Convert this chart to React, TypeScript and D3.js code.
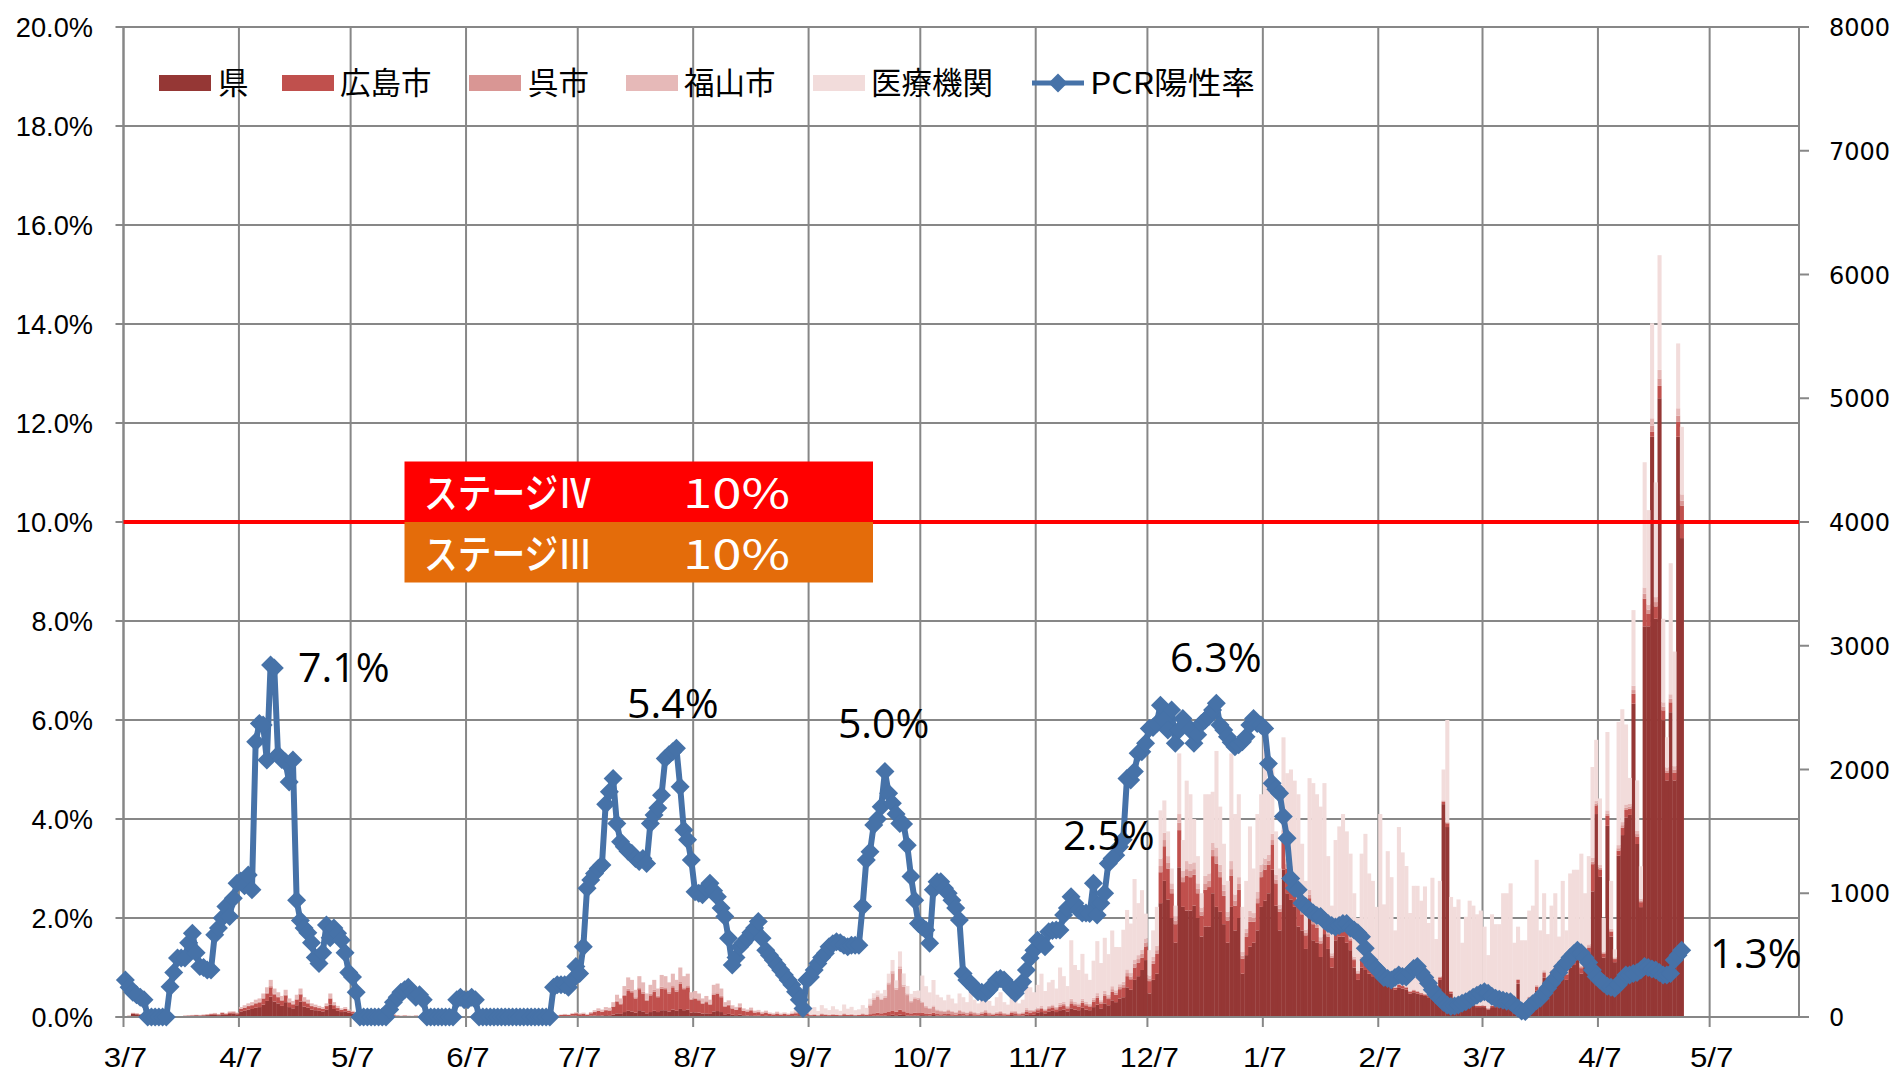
import React from "react";
import * as d3 from "d3";

// ---------------- DATA (daily, 2020-03-07 .. 2021-04-29) ----------------
const START = Date.UTC(2020, 2, 7);
const AXIS_END = Date.UTC(2021, 4, 31);
const DAY = 86400000;

const seriesNames = ["県", "広島市", "呉市", "福山市", "医療機関"];
const lineName = "PCR陽性率";
const xTickLabels = ["3/7","4/7","5/7","6/7","7/7","8/7","9/7","10/7","11/7","12/7","1/7","2/7","3/7","4/7","5/7"];
const leftTicks = [0, 2, 4, 6, 8, 10, 12, 14, 16, 18, 20];
const rightTicks = [0, 1000, 2000, 3000, 4000, 5000, 6000, 7000, 8000];
const stageThreshold = 10;
const stageLabels = ["ステージⅣ", "ステージⅢ"];
const stageValueLabel = "10%";

const ken = [
8,10,25,22,18,6,4,4,3,5,6,4,5,3,4,5,7,9,10,13,10,12,15,18,20,15,22,18,25,28,22,
45,50,60,65,75,80,100,130,165,125,110,90,120,80,70,95,125,85,75,60,55,50,45,60,100,65,50,40,45,35,28,
15,18,12,10,14,16,12,9,8,10,12,8,6,8,
6,5,7,4,3,5,6,4,3,2,4,5,3,2,3,4,2,3,2,
1,2,1,0,1,2,1,1,0,1,2,1,1,2,1,2,3,2,3,4,3,
5,6,8,6,10,12,
8,8,6,10,12,14,12,15,14,20,
30,25,40,50,45,35,55,45,30,40,
50,40,55,55,45,60,50,65,55,60,
35,38,35,28,30,25,45,48,40,22,
25,18,15,20,14,12,14,10,11,8,
10,7,6,8,6,7,6,8,10,15,
12,10,
5,6,5,8,6,5,7,6,5,8,6,7,5,6,8,6,8,10,12,10,12,15,18,14,20,16,12,10,12,10,
15,14,12,16,12,10,12,14,10,9,14,12,10,15,10,9,12,15,10,8,12,14,10,8,16,14,10,12,20,16,18,
35,40,30,45,50,40,55,60,45,70,60,55,75,60,55,80,100,70,110,95,135,120,150,160,240,220,300,330,380,460,
190,300,350,920,1100,950,800,600,1210,890,860,860,900,800,650,730,730,1000,890,850,750,600,890,700,800,350,500,570,600,700,890,
940,1000,1190,900,700,1190,1000,950,890,730,700,550,810,620,600,485,670,550,400,620,650,650,600,540,400,300,400,380,350,330,320,
350,260,260,250,220,240,230,220,190,200,190,180,170,160,160,130,300,1720,1535,190,135,120,90,110,100,90,80,80,
80,60,80,80,80,90,80,100,70,270,100,90,140,150,215,150,320,270,320,350,280,350,300,400,420,460,350,450,500,1015,1640,
1133,480,1545,650,443,1304,1470,1613,1633,2532,1398,888,3157,3157,4689,3218,5000,2398,1912,2463,1912,4689,3870
];

const hiroshima = [
0,0,5,5,4,2,0,0,0,0,2,0,0,0,2,2,3,3,4,3,4,5,5,6,8,6,10,8,12,10,8,
20,25,28,30,35,38,48,60,75,58,50,42,55,38,32,45,58,40,35,28,25,22,20,28,48,30,22,18,20,15,12,
8,10,6,5,7,8,6,5,4,5,6,4,3,4,
3,3,4,2,2,3,3,2,2,1,2,3,2,1,2,2,1,2,1,
1,1,0,0,1,1,0,1,0,1,1,1,0,1,1,2,2,3,4,5,6,
8,10,12,10,15,18,
14,17,12,20,28,36,30,40,38,62,
95,78,130,165,155,115,170,145,100,135,
155,120,175,170,145,180,155,205,170,180,
105,110,100,80,90,75,135,140,120,62,
70,50,42,58,36,32,40,26,28,20,
26,18,15,20,14,17,14,18,20,25,
20,18,
10,12,8,14,12,10,12,10,9,14,10,12,9,10,14,11,15,20,22,20,25,30,35,28,40,30,25,20,24,22,
18,15,14,18,12,12,12,15,12,10,15,12,10,15,12,10,14,18,12,10,14,16,12,10,18,16,12,14,25,20,22,
20,25,18,25,28,22,30,35,25,40,35,30,40,35,30,45,55,40,60,50,70,60,75,80,90,85,100,110,100,110,
100,130,160,250,280,250,200,150,300,200,280,270,250,200,170,300,320,300,350,280,230,180,250,200,230,120,150,200,170,220,240,
250,230,200,180,150,230,200,190,180,160,130,110,150,130,120,110,120,100,80,100,100,100,90,80,60,50,60,60,50,50,40,
30,20,25,20,15,20,20,18,15,15,15,12,12,12,12,10,20,20,30,15,12,12,10,10,10,10,10,10,
10,8,10,10,10,12,10,12,8,30,12,12,18,20,30,20,40,35,40,45,35,45,40,50,50,55,45,50,60,220,70,
60,30,80,40,25,40,60,60,50,80,60,40,224,100,39,100,100,80,60,80,60,120,263
];

const kure = [
0,0,0,0,0,0,0,0,0,0,0,0,0,0,0,0,0,0,0,0,0,0,0,0,0,0,0,0,0,0,0,
3,3,4,4,5,5,6,8,10,7,6,6,7,5,5,6,7,5,5,4,3,3,3,4,6,4,3,2,3,2,2,
0,0,0,0,0,0,0,0,0,0,0,0,0,0,0,0,0,0,0,0,0,0,0,0,0,0,0,0,0,0,
0,0,0,0,0,0,0,0,0,0,0,0,0,0,0,0,0,0,0,0,0,0,0,0,0,0,0,0,0,0,
1,1,1,2,2,3,3,4,3,5,
8,7,12,15,14,10,15,13,9,12,
14,11,16,15,13,16,14,18,15,16,
9,10,9,7,8,6,12,12,10,6,
6,4,4,5,3,3,3,2,3,2,
2,2,1,2,1,2,1,2,2,5,
4,3,
2,2,2,3,2,2,3,2,2,3,2,3,2,2,3,2,70,110,130,110,120,220,300,180,330,200,140,90,110,110,
80,50,40,50,30,25,20,25,20,15,20,15,12,15,12,10,12,14,10,8,10,12,8,7,10,10,6,8,15,12,10,
10,12,8,10,12,10,14,12,10,18,14,12,16,12,10,14,18,12,18,15,20,16,18,20,25,22,30,28,30,30,
20,25,30,50,50,45,35,30,60,40,55,50,45,35,30,50,50,50,60,45,40,30,55,40,45,25,30,40,30,40,45,
40,35,40,30,25,40,35,35,30,30,25,20,30,25,25,20,25,20,15,20,20,20,18,15,12,10,12,12,10,10,8,
8,5,6,5,4,5,5,4,3,4,4,3,3,3,3,2,4,5,5,3,3,3,2,2,2,2,2,2,
2,2,2,2,2,2,2,3,2,5,3,3,4,4,6,4,8,7,8,9,7,9,8,10,10,11,9,10,12,20,15,
15,8,20,10,6,20,20,20,18,30,20,12,40,35,50,35,60,30,20,30,25,50,40
];

const fukuyama = [
0,0,4,3,2,0,0,0,0,0,0,0,0,0,0,0,2,2,3,2,3,3,4,4,5,4,6,5,8,8,6,
12,17,18,21,25,27,36,42,50,40,34,32,38,27,23,34,40,30,25,18,17,15,12,18,36,21,15,10,12,8,8,
5,6,4,3,4,5,4,3,3,3,4,3,2,3,
2,2,2,1,1,2,2,1,1,1,1,2,1,1,1,1,1,1,1,
0,0,0,0,0,0,0,0,0,0,0,0,0,0,0,0,1,1,2,2,2,
3,4,5,4,6,6,
7,9,6,8,13,17,15,21,20,33,
47,40,68,90,86,60,90,77,51,73,
81,59,94,90,77,94,81,112,90,94,
51,52,46,35,42,34,68,70,60,30,
34,23,19,27,17,13,18,12,13,10,
12,8,8,10,7,9,4,7,13,15,
14,9,
4,5,4,6,5,4,5,4,4,6,4,5,4,4,6,5,10,12,12,10,12,15,18,14,20,16,14,12,14,12,
12,10,8,10,8,7,7,8,7,6,8,7,6,8,6,5,7,9,6,5,7,8,6,5,9,8,5,6,12,9,10,
10,12,8,12,12,10,15,14,10,20,16,14,18,14,12,16,20,14,22,18,24,20,22,25,30,28,35,32,35,35,
25,30,35,60,60,55,45,35,70,50,65,60,55,45,35,60,60,60,70,55,50,40,65,50,55,30,35,50,40,50,55,
50,45,50,40,30,50,45,45,40,40,30,25,40,35,30,30,35,25,20,25,25,25,22,20,15,12,15,15,12,12,10,
10,6,8,6,5,6,6,5,4,5,5,4,4,4,4,3,5,6,6,4,4,4,3,3,3,3,3,3,
3,2,3,3,3,3,3,4,2,6,4,4,5,6,8,6,10,9,10,11,9,11,10,12,12,14,11,12,15,30,20,
20,10,25,12,8,25,25,25,20,35,25,15,50,40,60,40,70,35,25,35,30,60,50
];

const iryo = [
0,0,0,0,0,0,0,0,0,0,0,0,0,0,0,0,0,0,0,0,0,0,0,0,0,0,0,0,0,0,0,
0,0,0,0,0,0,0,0,0,0,0,0,0,0,0,0,0,0,0,0,0,0,0,0,0,0,0,0,0,0,0,
0,0,0,0,0,0,0,0,0,0,0,0,0,0,0,0,0,0,0,0,0,0,0,0,0,0,0,0,0,0,
0,0,0,0,0,0,0,0,0,0,0,0,0,0,0,0,0,0,0,0,0,0,0,0,0,0,0,0,2,3,
0,0,0,0,0,0,0,0,0,0,
0,0,0,0,0,0,0,0,0,0,
0,0,0,0,0,0,0,0,0,0,
0,0,0,0,0,0,0,0,0,0,
2,2,3,2,2,3,3,4,3,4,
4,5,4,5,6,5,5,10,15,60,
40,30,
40,55,30,65,45,35,60,40,30,70,45,55,35,40,65,50,45,40,38,40,50,70,90,60,120,90,60,55,50,60,
210,160,125,205,118,105,84,118,100,70,133,114,82,147,100,76,135,184,92,60,117,150,84,70,177,142,77,100,278,183,140,
185,261,146,188,198,148,286,209,160,472,295,269,361,229,193,300,420,300,430,330,450,350,300,420,480,400,650,420,480,200,
205,215,315,390,260,200,120,85,490,250,650,560,350,220,115,660,640,410,780,470,330,250,870,650,670,365,385,680,360,630,570,
980,590,570,350,295,750,690,780,770,840,515,395,900,1080,1025,1055,1040,605,385,665,745,845,770,665,513,428,833,1013,738,698,512,
1242,619,1041,849,456,1264,1069,973,628,836,846,741,866,581,946,485,771,249,824,758,736,811,495,685,825,795,735,765,
635,428,735,655,655,893,905,961,518,419,501,511,693,720,1011,520,622,349,522,585,319,685,342,688,698,650,905,478,713,735,495,
538,272,633,388,65,996,912,646,211,611,409,263,1012,764,768,927,926,675,244,1059,926,524,546
];

const positivity = [
0.75,0.6,0.5,0.45,0.4,0.35,0,0,0,0,
0,0,0.61,0.9,1.19,1.19,1.19,1.5,1.69,1.3,
1.02,1.0,0.95,0.95,1.66,1.8,2.0,2.23,2.03,2.4,
2.7,2.75,2.65,2.87,2.57,5.56,5.93,5.9,5.19,7.11,
7.05,5.3,5.2,5.15,4.75,5.19,2.36,1.95,1.8,1.7,
1.5,1.2,1.08,1.3,1.86,1.6,1.8,1.69,1.55,1.3,
0.9,0.81,0.5,0,0,0,0,0,0,0,
0,0.15,0.3,0.4,0.5,0.55,0.6,0.5,0.4,0.45,
0.35,0,0,0,0,0,0,0,0,0.35,
0.4,0.35,0.35,0.4,0.35,0,0,0,0,0,
0,0,0,0,0,0,0,0,0,0,
0,0,0,0,0,0.6,0.65,0.65,0.65,0.6,
0.75,1.02,0.88,1.42,2.6,2.77,2.9,3.0,3.07,4.3,
4.55,4.82,3.91,3.54,3.44,3.35,3.31,3.2,3.14,3.2,
3.1,3.91,4.08,4.22,4.48,5.22,5.3,5.36,5.43,4.65,
3.78,3.58,3.17,2.53,2.5,2.47,2.6,2.7,2.55,2.43,
2.2,2.03,1.59,1.05,1.2,1.42,1.5,1.59,1.7,1.8,
1.93,1.59,1.35,1.25,1.15,1.05,0.95,0.85,0.75,0.65,
0.51,0.35,0.17,0.75,0.81,0.95,1.08,1.2,1.29,1.42,
1.48,1.52,1.5,1.45,1.42,1.45,1.45,1.45,2.23,3.17,
3.34,3.88,4.0,4.25,4.96,4.52,4.32,4.1,3.91,3.9,
3.47,2.84,2.36,1.89,1.82,1.76,1.49,2.57,2.73,2.73,
2.6,2.5,2.36,2.2,1.96,0.88,0.75,0.68,0.6,0.51,
0.5,0.48,0.55,0.65,0.75,0.78,0.75,0.65,0.55,0.48,
0.6,0.71,0.95,1.19,1.35,1.55,1.5,1.42,1.72,1.75,
1.76,1.76,2.06,2.2,2.43,2.3,2.16,2.1,2.1,2.09,
2.7,2.06,2.3,2.5,3.1,3.2,3.27,3.44,3.58,4.82,
4.79,4.96,5.33,5.36,5.53,5.83,5.85,5.93,6.3,6.0,
5.8,6.2,5.53,5.8,6.03,5.9,5.8,5.53,5.7,5.93,
6.0,6.07,6.2,6.34,5.9,5.8,5.66,5.55,5.46,5.5,
5.56,5.66,5.9,6.03,5.93,5.9,5.83,5.12,4.72,4.6,
4.52,4.05,3.61,2.8,2.6,2.57,2.3,2.23,2.16,2.1,
2.05,2.03,1.95,1.89,1.85,1.82,1.85,1.89,1.89,1.8,
1.76,1.7,1.62,1.39,1.15,1.05,0.98,0.9,0.8,0.78,
0.75,0.8,0.85,0.82,0.81,0.9,0.98,1.02,0.9,0.8,
0.68,0.55,0.45,0.38,0.3,0.24,0.21,0.22,0.24,0.28,
0.31,0.35,0.4,0.44,0.48,0.51,0.48,0.42,0.38,0.36,
0.34,0.32,0.31,0.24,0.18,0.12,0.11,0.2,0.27,0.33,
0.38,0.48,0.58,0.68,0.78,0.9,1.02,1.1,1.2,1.28,
1.35,1.3,1.2,1.1,0.95,0.82,0.75,0.68,0.62,0.6,
0.58,0.65,0.75,0.85,0.85,0.88,0.9,0.95,1.02,1.0,
0.97,0.95,0.9,0.85,0.85,0.88,1.15,1.25,1.35
];

// annotations: label, day index of anchor point, value at anchor
const annotationLabels = ["7.1%", "5.4%", "5.0%", "2.5%", "6.3%", "1.3%"];
const annotationDays = [39, 148, 204, 263, 293, 418];
const annotationValues = [7.11, 5.43, 4.96, 2.5, 6.34, 1.35];

// ---------------- LAYOUT ----------------
const W = 1899;
const H = 1072;
const L = 123.5, R = 1799, T = 27, B = 1017;
const COLORS = ["#953735", "#C0504D", "#D99694", "#E6B9B8", "#F2DCDB"];
const LINE_COLOR = "#4672A8";
const GRID = "#878787";
const annotationOffsets: [number, number][] = [[27.4, 17], [-49.4, -30.2], [-47, -33.5], [-41.6, -43], [-46.3, -31.2], [28.3, 17.8]];

const calibriW: Record<string, number> = { "0": 0.507, "1": 0.507, "2": 0.507, "3": 0.507, "4": 0.507, "5": 0.507, "6": 0.507, "7": 0.507, "8": 0.507, "9": 0.507, ".": 0.252, "%": 0.715, "/": 0.386 };
const textW = (s: string, size: number) => s.split("").reduce((a, c) => a + (calibriW[c] ?? 0.5), 0) * size;

export default function App() {
  const x = d3.scaleUtc().domain([new Date(START), new Date(AXIS_END)]).range([L, R]);
  const yL = d3.scaleLinear().domain([0, 20]).range([B, T]);
  const yR = d3.scaleLinear().domain([0, 8000]).range([B, T]);
  const dayDate = (i: number) => new Date(START + i * DAY);
  const dw = x(dayDate(1)) - x(dayDate(0));
  const cx = (i: number) => x(dayDate(i)) + dw / 2;

  const keys = ["ken", "hiroshima", "kure", "fukuyama", "iryo"];
  const n = positivity.length;
  const rows = d3.range(n).map((i) => ({
    i,
    ken: ken[i] ?? 0,
    hiroshima: hiroshima[i] ?? 0,
    kure: kure[i] ?? 0,
    fukuyama: fukuyama[i] ?? 0,
    iryo: iryo[i] ?? 0,
  }));
  const stacked = d3.stack<any>().keys(keys)(rows);

  const xTickDates = xTickLabels.map((_, k) => d3.utcMonth.offset(new Date(START), k));

  const linePath = d3
    .line<number>()
    .x((_, i) => cx(i))
    .y((v) => yL(v))(positivity) as string;

  const diamond = (px: number, py: number, r: number) =>
    `M${px},${py - r}L${px + r},${py}L${px},${py + r}L${px - r},${py}Z`;

  const legendItems = [
    { sx: 159, tx: 218 },
    { sx: 282, tx: 340 },
    { sx: 469, tx: 528 },
    { sx: 626, tx: 684 },
    { sx: 813, tx: 871 },
  ];

  const stageY = yL(stageThreshold);
  const jp = "'Noto Sans CJK JP', sans-serif";

  return (
    <svg width={W} height={H} viewBox={`0 0 ${W} ${H}`} style={{ display: "block", position: "absolute", left: 0, top: 0, background: "#fff" }}>
      <rect x={0} y={0} width={W} height={H} fill="#fff" />
      {leftTicks.map((v) => (
        <line key={"hg" + v} x1={L - 8} x2={R} y1={yL(v)} y2={yL(v)} stroke={GRID} strokeWidth={2} />
      ))}
      {xTickDates.map((d, k) => (
        <line key={"vg" + k} x1={x(d)} x2={x(d)} y1={T} y2={B + 10} stroke={GRID} strokeWidth={2} />
      ))}
      {stacked.map((layer, li) => (
        <g key={"layer" + li} fill={COLORS[li]}>
          {layer.map((seg: any, i: number) => {
            const y0 = yR(seg[0]);
            const y1 = yR(seg[1]);
            if (y0 - y1 <= 0) return null;
            return <rect key={i} x={x(dayDate(i))} y={y1} width={dw + 0.35} height={y0 - y1} />;
          })}
        </g>
      ))}
      <line x1={L} x2={L} y1={T} y2={B} stroke={GRID} strokeWidth={2} />
      <line x1={R} x2={R} y1={T} y2={B} stroke={GRID} strokeWidth={2} />
      <line x1={L - 8} x2={R + 10} y1={B} y2={B} stroke={GRID} strokeWidth={2} />
      {rightTicks.map((v) => (
        <line key={"rt" + v} x1={R} x2={R + 10} y1={yR(v)} y2={yR(v)} stroke={GRID} strokeWidth={2} />
      ))}
      <line x1={L} x2={R} y1={stageY} y2={stageY} stroke="#FF0000" strokeWidth={4} />
      <path d={linePath} fill="none" stroke={LINE_COLOR} strokeWidth={6} strokeLinejoin="round" />
      <g fill={LINE_COLOR}>
        {positivity.map((v, i) => (
          <path key={"m" + i} d={diamond(cx(i), yL(v), 9.5)} />
        ))}
      </g>
      {leftTicks.map((v) => {
        const s = d3.format(".1f")(v) + "%";
        return (
          <text key={"lt" + v} x={93} y={yL(v) + 10} textAnchor="end" fontFamily="'Liberation Sans', Arial, sans-serif" fontSize={27} textLength={textW(s, 31)} lengthAdjust="spacingAndGlyphs" fill="#000">
            {s}
          </text>
        );
      })}
      {rightTicks.map((v) => (
        <text key={"rl" + v} x={1829} y={yR(v) + 9} fontFamily="'DejaVu Sans', sans-serif" fontSize={24} fill="#000">
          {String(v)}
        </text>
      ))}
      {xTickDates.map((d, k) => (
        <text key={"xl" + k} x={x(d) + 2} y={1067} textAnchor="middle" fontFamily="'Liberation Sans', Arial, sans-serif" fontSize={27} textLength={textW(xTickLabels[k], 31)} lengthAdjust="spacingAndGlyphs" fill="#000">
          {xTickLabels[k]}
        </text>
      ))}
      {annotationLabels.map((s, k) => (
        <text key={"an" + k} x={cx(annotationDays[k]) + annotationOffsets[k][0]} y={yL(annotationValues[k]) + annotationOffsets[k][1]} fontFamily="'Open Sans', 'Noto Sans', sans-serif" fontSize={41} fill="#000">
          {s}
        </text>
      ))}
      <rect x={404.5} y={stageY - 60.5} width={468.5} height={60.5} fill="#FF0000" />
      <rect x={404.5} y={stageY} width={468.5} height={60.5} fill="#E46C0A" />
      {stageLabels.map((s, k) => (
        <g key={"st" + k}>
          <text x={424} y={stageY - 14 + k * 61} fill="#fff" fontFamily={jp} fontSize={41} fontWeight={500} textLength={168} lengthAdjust="spacingAndGlyphs">{s}</text>
          <text x={683} y={stageY - 14 + k * 61} fill="#fff" fontFamily={jp} fontSize={40} fontWeight={400} textLength={107} lengthAdjust="spacingAndGlyphs">{stageValueLabel}</text>
        </g>
      ))}
      {seriesNames.map((name, k) => (
        <g key={"lg" + k}>
          <rect x={legendItems[k].sx} y={75} width={52} height={16} fill={COLORS[k]} />
          <text x={legendItems[k].tx} y={94} fontFamily={jp} fontSize={30.5} fill="#000">
            {name}
          </text>
        </g>
      ))}
      <line x1={1032} x2={1084} y1={83} y2={83} stroke={LINE_COLOR} strokeWidth={5} />
      <path d={diamond(1058, 83, 9.5)} fill={LINE_COLOR} />
      <text x={1090} y={94} fontFamily={jp} fontSize={30.5} fill="#000" textLength={165} lengthAdjust="spacingAndGlyphs">
        {lineName}
      </text>
    </svg>
  );
}
